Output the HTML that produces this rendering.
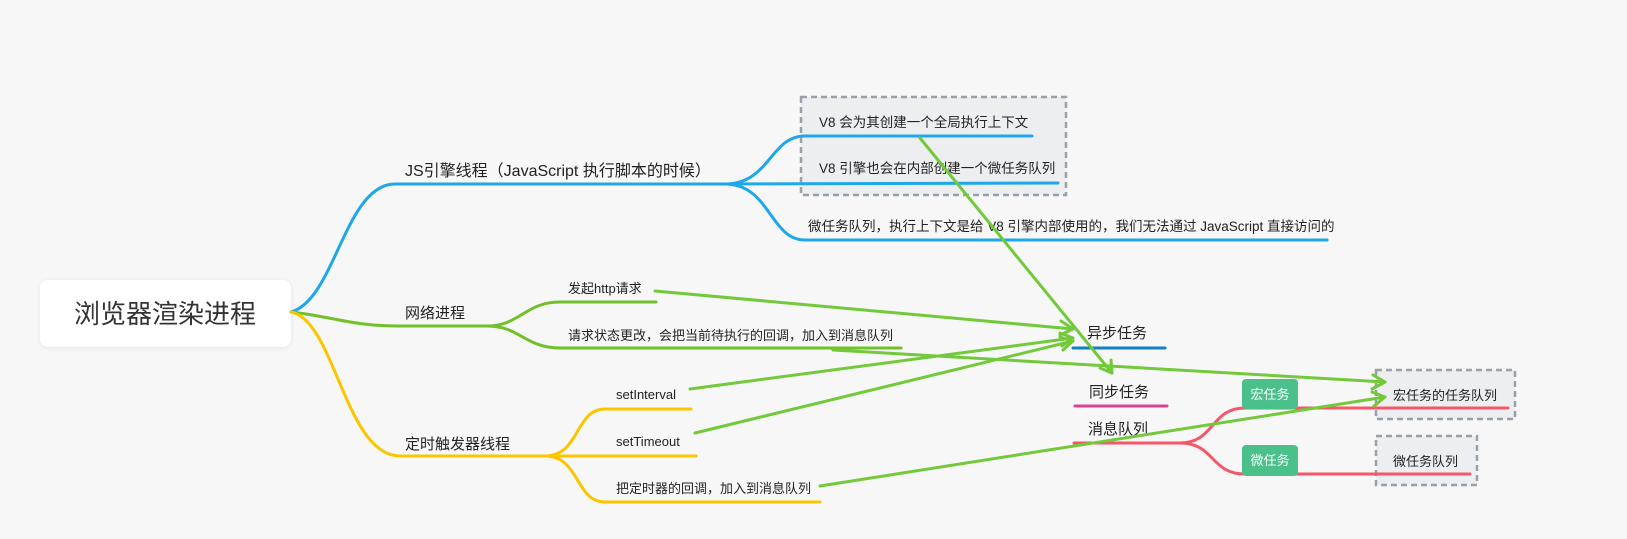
<!DOCTYPE html>
<html><head><meta charset="utf-8"><style>
html,body{margin:0;padding:0;background:#f7f7f7;}
svg{display:block;font-family:"Liberation Sans","Noto Sans CJK SC",sans-serif;}
</style></head><body>
<svg width="1627" height="539" viewBox="0 0 1627 539" xmlns="http://www.w3.org/2000/svg">
<rect width="1627" height="539" fill="#f7f7f7"/>
<defs>
<filter id="sh" x="-10%" y="-10%" width="120%" height="130%"><feDropShadow dx="0" dy="1" stdDeviation="2" flood-color="#000" flood-opacity="0.08"/></filter>
</defs>
<rect x="801" y="97" width="265" height="98" fill="#edeef0" stroke="#9aa0a8" stroke-width="2.5" stroke-dasharray="6,4"/>
<rect x="1376" y="370" width="139" height="49" fill="#edeef0" stroke="#9aa0a8" stroke-width="2.5" stroke-dasharray="6,4"/>
<rect x="1376" y="436" width="101" height="49" fill="#edeef0" stroke="#9aa0a8" stroke-width="2.5" stroke-dasharray="6,4"/>

<rect x="40" y="280" width="251" height="67" rx="8" fill="#fff" filter="url(#sh)"/>
<text x="165" y="323" font-size="26" fill="#333" text-anchor="middle">浏览器渲染进程</text>

<g fill="none" stroke-width="3" stroke-linecap="round">
<path d="M291,312 C335,300 345,184 395,184 L725,184" stroke="#1ea7ea"/>
<path d="M725,184 C770,184 770,136 805,136 L1032,136" stroke="#1ea7ea"/>
<path d="M725,184 L1058,183" stroke="#1ea7ea"/>
<path d="M725,184 C770,184 770,240 805,240 L1327,240" stroke="#1ea7ea"/>
<path d="M291,312 C330,316 350,326 400,326 L487,326" stroke="#72c12a"/>
<path d="M487,326 C520,326 525,302 560,302 L656,302" stroke="#72c12a"/>
<path d="M487,326 C520,326 525,348 560,348 L901,348" stroke="#72c12a"/>
<path d="M291,312 C335,320 345,456 400,456 L545,456" stroke="#fdc500"/>
<path d="M545,456 C580,456 575,409 605,409 L691,409" stroke="#fdc500"/>
<path d="M545,456 L696,456" stroke="#fdc500"/>
<path d="M545,456 C580,456 575,502 605,502 L820,502" stroke="#fdc500"/>
<path d="M1073,348 L1165,348" stroke="#0f7fc9"/>
<path d="M1075,406 L1167,406" stroke="#d84493"/>
<path d="M1074,443 L1180,443 C1215,443 1210,408 1245,408 L1508,408" stroke="#f65768"/>
<path d="M1180,443 C1215,443 1210,474 1245,474 L1470,474" stroke="#f65768"/>
</g>

<rect x="1242" y="379" width="56" height="30" rx="4" fill="#4cc08a"/>
<text x="1270" y="399" font-size="13" fill="#fff" text-anchor="middle">宏任务</text>
<rect x="1242" y="445" width="56" height="31" rx="4" fill="#4cc08a"/>
<text x="1270" y="465" font-size="13" fill="#fff" text-anchor="middle">微任务</text>

<g fill="#222">
<text x="405" y="176" font-size="16">JS引擎线程（JavaScript 执行脚本的时候）</text>
<text x="405" y="318" font-size="15">网络进程</text>
<text x="405" y="449" font-size="15">定时触发器线程</text>
<text x="819" y="127" font-size="13.5">V8 会为其创建一个全局执行上下文</text>
<text x="819" y="173" font-size="13.5">V8 引擎也会在内部创建一个微任务队列</text>
<text x="808" y="231" font-size="13.5">微任务队列，执行上下文是给 V8 引擎内部使用的，我们无法通过 JavaScript 直接访问的</text>
<text x="568" y="293" font-size="13">发起http请求</text>
<text x="568" y="340" font-size="13">请求状态更改，会把当前待执行的回调，加入到消息队列</text>
<text x="616" y="399" font-size="13">setInterval</text>
<text x="616" y="446" font-size="13">setTimeout</text>
<text x="616" y="493" font-size="13">把定时器的回调，加入到消息队列</text>
<text x="1087" y="338" font-size="15">异步任务</text>
<text x="1089" y="397" font-size="15">同步任务</text>
<text x="1088" y="434" font-size="15">消息队列</text>
<text x="1393" y="400" font-size="13">宏任务的任务队列</text>
<text x="1393" y="466" font-size="13">微任务队列</text>
</g>

<g fill="none" stroke="#72c93a" stroke-width="3" stroke-linecap="round" stroke-linejoin="round">
<path d="M655,291 L1073,329"/><path d="M1061,321 L1073,329 L1060,335"/>
<path d="M690,389 L1073,338"/><path d="M1060,333 L1073,338 L1062,346"/>
<path d="M695,433 L1073,341"/><path d="M1060,337 L1073,341 L1063,350"/>
<path d="M920,138 L1112,373"/><path d="M1100,368 L1112,373 L1111,360"/>
<path d="M833,350 L1385,382"/><path d="M1373,375 L1385,382 L1372,389"/>
<path d="M820,486 L1385,397"/><path d="M1372,392 L1385,397 L1374,406"/>
</g>
</svg>
</body></html>
